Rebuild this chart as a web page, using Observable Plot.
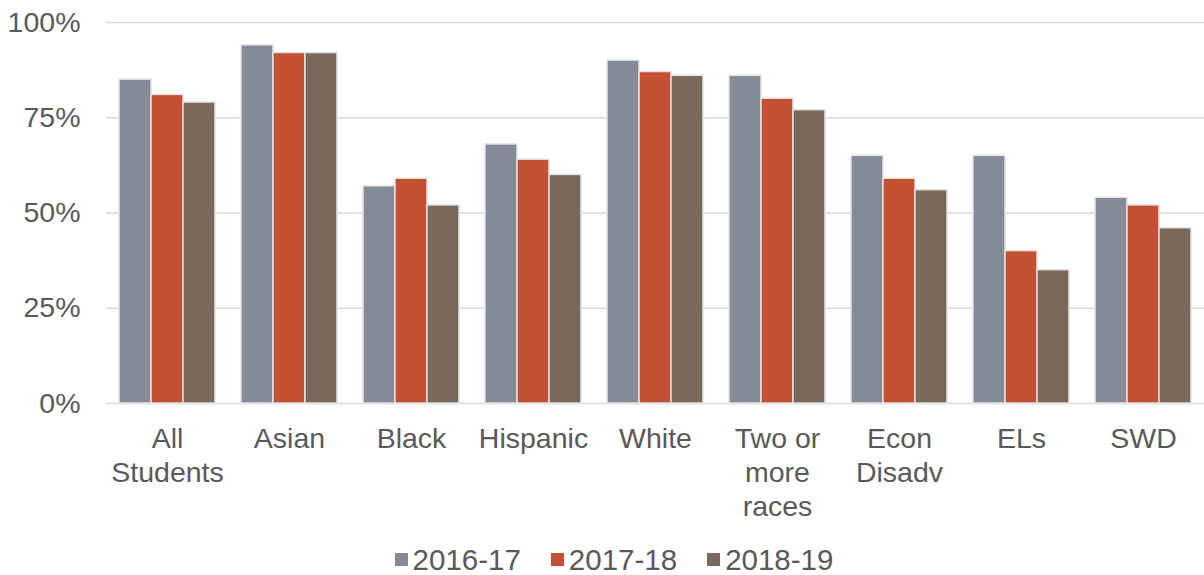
<!DOCTYPE html>
<html>
<head>
<meta charset="utf-8">
<script src="https://cdn.jsdelivr.net/npm/d3@7"></script>
<script src="https://cdn.jsdelivr.net/npm/@observablehq/plot@0.6"></script>
<style>
  html, body { margin: 0; padding: 0; background: white; overflow: hidden; }
  #chart svg { display: block; }
  #legend { padding-left: 54px; margin-top: 15px; }
  .lg-swatches-wrap { justify-content: center; min-height: 0 !important; line-height: 1 !important; }
  .lg-swatch { margin-right: 30px !important; line-height: 1 !important; }
  .lg-swatch > svg { margin-right: 5px !important; }
</style>
</head>
<body>
<div id="chart"></div>
<div id="legend"></div>
<script>
const categories = ["All Students", "Asian", "Black", "Hispanic", "White", "Two or more races", "Econ Disadv", "ELs", "SWD"];
const tickLabels = ["All\nStudents", "Asian", "Black", "Hispanic", "White", "Two or\nmore\nraces", "Econ\nDisadv", "ELs", "SWD"];
const years = ["2016-17", "2017-18", "2018-19"];
const v2016 = [85, 94, 57, 68, 90, 86, 65, 65, 54];
const v2017 = [81, 92, 59, 64, 87, 80, 59, 40, 52];
const v2018 = [79, 92, 52, 60, 86, 77, 56, 35, 46];
const yTicks = [0, 25, 50, 75, 100];
const colors = ["#848A96", "#C55034", "#7B685C"];

const series = [v2016, v2017, v2018];
const data = [];
categories.forEach((c, i) => {
  years.forEach((y, j) => data.push({category: c, year: y, value: series[j][i]}));
});

const font = "'Liberation Sans', Arial, sans-serif";

const chart = Plot.plot({
  width: 1204,
  height: 530,
  marginLeft: 106,
  marginRight: 0,
  marginTop: 22,
  marginBottom: 127,
  style: {fontFamily: font, fontSize: "28.5px", color: "#595959", background: "white"},
  fx: {domain: categories, padding: 0, label: null},
  x: {domain: years, paddingInner: 0, paddingOuter: 0.35, axis: null},
  y: {domain: [0, 100], label: null},
  color: {domain: years, range: colors},
  marks: [
    Plot.gridY(yTicks, {stroke: "#d9d9d9", strokeOpacity: 1, strokeWidth: 1.5}),
    Plot.barY(data, {fx: "category", x: "year", y: "value", fill: "year", stroke: "#e4e4e4", strokeWidth: 1.5}),
    Plot.axisY(yTicks, {tickFormat: d => d + "%", tickSize: 0, tickPadding: 26, fontSize: 28.5, fill: "#595959", label: null}),
    Plot.axisFx({anchor: "bottom", tickSize: 0, tickPadding: 20, tickFormat: d => tickLabels[categories.indexOf(d)], lineHeight: 1.2, fontSize: 28.5, fill: "#595959", label: null})
  ]
});
document.getElementById("chart").append(chart);

const legend = Plot.legend({
  color: {domain: years, range: colors},
  swatchSize: 13,
  className: "lg",
  style: {fontFamily: font, fontSize: "29.5px", color: "#595959"}
});
document.getElementById("legend").append(legend);
</script>
</body>
</html>
